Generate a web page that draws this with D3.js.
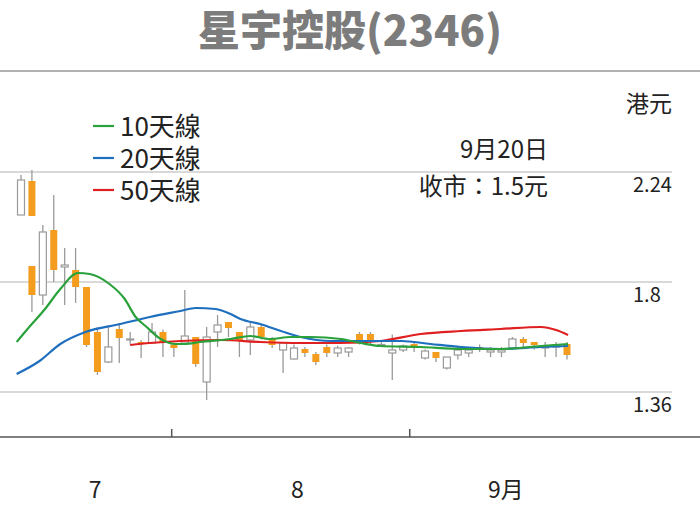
<!DOCTYPE html><html><head><meta charset="utf-8">
<script src="https://cdn.jsdelivr.net/npm/d3@7"></script>
<style>body{margin:0;background:#fff}</style></head><body><svg id="c" width="700" height="530"></svg>
<script>
const title = "星宇控股(2346)";
const idx   = [0,1,1,2,3,4,5,6,7,8,9,10,11,12,13,14,15,16,17,18,19,20,21,22,23,24,25,26,27,28,29,30,31,32,33,34,35,36,37,38,39,40,41,42,43,44,45,46,47,48,49,50];
const open  = [2.068,2.204,1.864,1.748,2.008,1.86,1.848,1.78,1.6,1.48,1.612,1.572,1.56,1.556,1.6,1.548,1.556,1.58,1.4,1.6,1.64,1.6,1.568,1.62,1.576,1.528,1.492,1.532,1.512,1.54,1.516,1.52,1.592,1.592,1.546,1.516,1.528,1.552,1.496,1.52,1.456,1.508,1.516,1.54,1.52,1.52,1.536,1.572,1.56,1.536,1.54,1.552];
const close = [2.208,2.064,1.748,2.0,1.848,1.868,1.78,1.548,1.44,1.54,1.576,1.572,1.556,1.6,1.556,1.536,1.584,1.472,1.58,1.628,1.616,1.568,1.62,1.58,1.548,1.556,1.536,1.516,1.48,1.516,1.536,1.536,1.56,1.56,1.55,1.528,1.544,1.536,1.524,1.496,1.5,1.528,1.528,1.536,1.528,1.528,1.572,1.556,1.548,1.54,1.548,1.508];
const high  = [2.228,2.248,1.864,2.028,2.148,1.936,1.936,1.78,1.62,1.62,1.636,1.6,1.568,1.636,1.61,1.548,1.768,1.58,1.62,1.668,1.64,1.6,1.636,1.63,1.58,1.56,1.55,1.54,1.52,1.55,1.545,1.54,1.6,1.6,1.56,1.59,1.55,1.56,1.53,1.52,1.5,1.54,1.54,1.55,1.54,1.54,1.58,1.58,1.555,1.56,1.56,1.56];
const low   = [2.068,2.064,1.68,1.708,1.8,1.708,1.716,1.54,1.428,1.476,1.476,1.55,1.496,1.556,1.5,1.5,1.556,1.46,1.328,1.54,1.58,1.5,1.508,1.57,1.536,1.436,1.49,1.5,1.468,1.5,1.5,1.5,1.55,1.55,1.54,1.408,1.52,1.52,1.49,1.48,1.45,1.49,1.5,1.52,1.5,1.5,1.53,1.54,1.53,1.5,1.5,1.49];
const ma10i = [-0.4,0.6,2.2,3.6,5.2,6.3,8.1,9.5,10.5,11.4,12.8,14.1,15,16.4,19.2,21,22.8,24.7,26.5,29.3,31.1,32.9,36.6,40.3,43.9,47.6,50.1];
const ma10  = [1.56,1.612,1.692,1.772,1.836,1.832,1.792,1.732,1.66,1.624,1.572,1.552,1.552,1.56,1.572,1.584,1.572,1.58,1.58,1.572,1.556,1.544,1.54,1.532,1.532,1.544,1.552];
const ma20i = [-0.4,1.7,3.6,5.9,9.1,11.8,14.6,16,17.8,19.2,20.1,21.9,23.8,25.6,28.4,34.8,37.5,40.3,43.9,47.6,50.1];
const ma20  = [1.432,1.484,1.552,1.6,1.632,1.66,1.684,1.696,1.692,1.672,1.652,1.632,1.604,1.58,1.564,1.564,1.552,1.54,1.532,1.54,1.544];
const ma50i = [10,11.8,14.6,18.3,21.9,25.6,29.3,32.9,36.6,40.3,43.9,47.6,49,50.1];
const ma50  = [1.548,1.556,1.564,1.568,1.56,1.556,1.556,1.564,1.592,1.604,1.612,1.62,1.608,1.588];
const yTicks = [2.24,1.8,1.36];
const xTickIdx = [13.8,35.6];
const monthLabels = [["7",6.8],["8",25.3],["9月",44.4]];
const legend = [["10天線","#2aa13a"],["20天線","#1f6fbf"],["50天線","#e02020"]];

const svg = d3.select("#c");
const x = d3.scaleLinear().domain([0,50]).range([21,567]);
const y = d3.scaleLinear().domain([1.36,2.24]).range([392,172]);
const font = "'Noto Sans CJK TC','Noto Sans',sans-serif";

svg.append("text").attr("x",350).attr("y",46).attr("text-anchor","middle").attr("font-family",font)
  .attr("font-weight",900).attr("font-size",42).attr("fill","#7c7c7c").text(title);
svg.append("line").attr("x1",0).attr("x2",700).attr("y1",71).attr("y2",71).attr("stroke","#999").attr("stroke-width",1.5);

const yAxis = d3.axisRight(y).tickValues(yTicks).tickSize(0).tickFormat(d=>String(d));
const gy = svg.append("g").attr("transform","translate(630,0)").call(yAxis);
gy.select(".domain").remove();
gy.selectAll("text").attr("x",3).attr("dy","0.95em").attr("font-family",font).attr("font-size",20).attr("fill","#222");
svg.selectAll(".grid").data(yTicks).join("line").attr("x1",0).attr("x2",672)
  .attr("y1",d=>y(d)).attr("y2",d=>y(d)).attr("stroke","#ccc").attr("stroke-width",1.5);
svg.append("text").attr("x",626).attr("y",112).attr("font-family",font).attr("font-size",23).attr("fill","#222").text("港元");

svg.append("line").attr("x1",0).attr("x2",700).attr("y1",437).attr("y2",437).attr("stroke","#555").attr("stroke-width",1.5);
svg.selectAll(".xt").data(xTickIdx).join("line").attr("x1",d=>x(d)).attr("x2",d=>x(d)).attr("y1",437).attr("y2",429).attr("stroke","#555").attr("stroke-width",1.5);
svg.selectAll(".ml").data(monthLabels).join("text").attr("x",d=>x(d[1])).attr("y",498).attr("text-anchor","middle")
  .attr("font-family",font).attr("font-size",23).attr("fill","#222").text(d=>d[0]);

const cg = svg.append("g");
idx.forEach((i,k)=>{
  const up = close[k]>=open[k];
  cg.append("line").attr("x1",x(i)).attr("x2",x(i)).attr("y1",y(high[k])).attr("y2",y(low[k])).attr("stroke","#9a9a9a").attr("stroke-width",1.3);
  const t=y(Math.max(open[k],close[k])), b=y(Math.min(open[k],close[k]));
  cg.append("rect").attr("x",x(i)-3.5).attr("width",7).attr("y",t).attr("height",Math.max(1,b-t))
    .attr("fill",up?"#fff":"#f39c1e").attr("stroke",up?"#9a9a9a":"none").attr("stroke-width",1.2);
});
const line = d3.line().curve(d3.curveMonotoneX);
const drawMA=(ix,v,c)=>svg.append("path").attr("d",line(ix.map((d,k)=>[x(d),y(v[k])]))).attr("fill","none").attr("stroke",c).attr("stroke-width",2.2);
drawMA(ma50i,ma50,legend[2][1]);
drawMA(ma20i,ma20,legend[1][1]);
drawMA(ma10i,ma10,legend[0][1]);

legend.forEach((d,k)=>{
  const yy=126+k*32;
  svg.append("line").attr("x1",93).attr("x2",114).attr("y1",yy).attr("y2",yy).attr("stroke",d[1]).attr("stroke-width",2.2);
  svg.append("text").attr("x",120).attr("y",yy+10).attr("font-family",font).attr("font-size",26).attr("fill","#222").text(d[0]);
});
svg.append("text").attr("x",548).attr("y",158).attr("text-anchor","end").attr("font-family",font).attr("font-size",24).attr("fill","#222").text("9月20日");
svg.append("text").attr("x",548).attr("y",195).attr("text-anchor","end").attr("font-family",font).attr("font-size",24).attr("fill","#222").text("收市：1.5元");
</script></body></html>
